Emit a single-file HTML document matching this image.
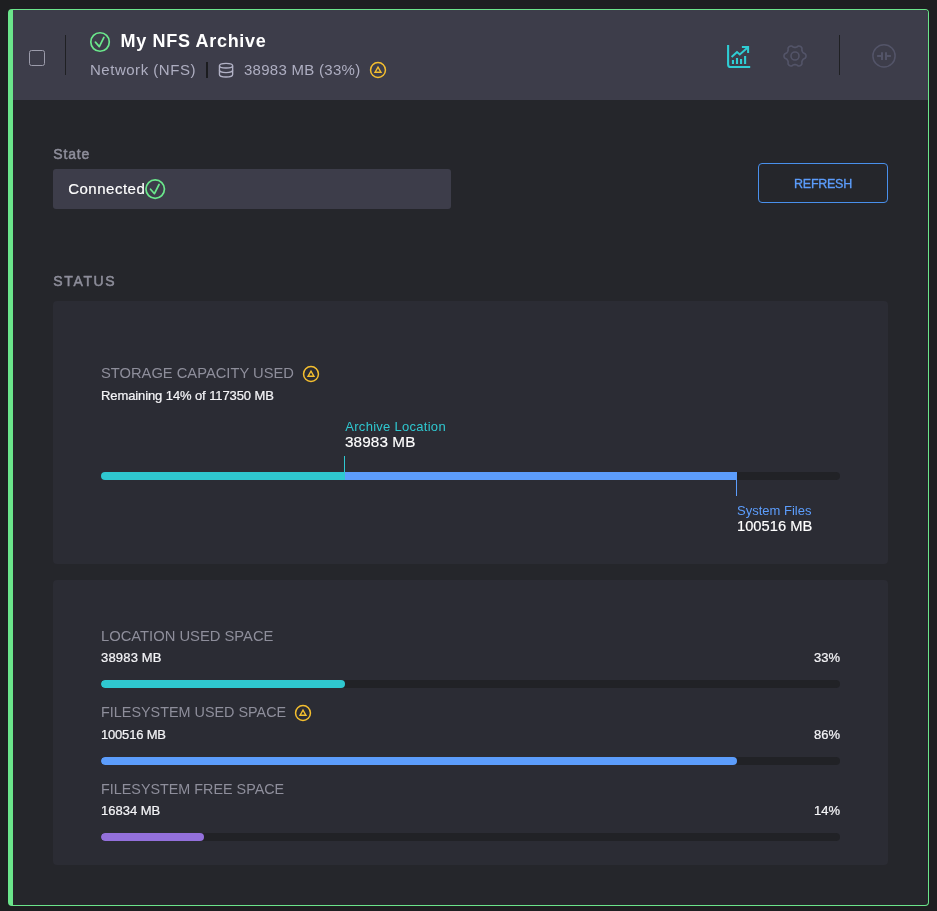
<!DOCTYPE html>
<html lang="en">
<head>
<meta charset="utf-8">
<title>My NFS Archive</title>
<style>
*{box-sizing:border-box;margin:0;padding:0}
html,body{width:937px;height:911px;overflow:hidden;background:#1e1f21}
body{font-family:"Liberation Sans",sans-serif;color:#fff;position:relative}
.abs{position:absolute}
.t{position:absolute;white-space:nowrap;line-height:1}
#panel{position:absolute;left:8px;top:9px;width:921px;height:897px;border:1px solid #6be58b;border-left-width:5px;border-radius:4px;background:#25262b;overflow:hidden}
#hdr{position:absolute;left:0;top:0;width:915px;height:90px;background:#3d3d4a}
.vdiv{position:absolute;width:1px;background:#1f2023}
.cb{position:absolute;left:29px;top:50px;width:16px;height:16px;border:1px solid #9c9cab;border-radius:2.5px}
.gray{color:#aeaec1}
.lab{color:#8e8e9b}
.card{position:absolute;left:53px;width:835px;background:#2b2c34;border-radius:4px}
.track{position:absolute;left:101px;width:739px;height:8px;border-radius:4px;background:#212226;overflow:hidden}
.fill{position:absolute;top:0;height:8px}
.val{font-size:13px;color:#f4f4f7;-webkit-text-stroke:0.22px #f4f4f7}
.h{font-size:15px;color:#8e8e9b}
#btn{position:absolute;left:758px;top:163px;width:130px;height:40px;border:1px solid #4990ec;border-radius:4px;color:#5c9dfc;font-size:13px;text-align:center;line-height:38px}
</style>
</head>
<body>
<div id="panel"><div id="hdr"></div></div>

<!-- header -->
<div class="cb"></div>
<div class="vdiv" style="left:65px;top:35px;height:40px"></div>
<svg class="abs" style="left:89px;top:31px" width="22" height="22" viewBox="0 0 22 22"><circle cx="11.05" cy="11" r="9.25" fill="none" stroke="#6be88c" stroke-width="1.7"/><path d="M6.4 11.15 L10.3 15.6 L14.9 6.4" fill="none" stroke="#6be88c" stroke-width="1.7" stroke-linecap="round" stroke-linejoin="round"/></svg>
<div class="t" id="title" style="left:120.5px;top:32.2px;font-size:18px;font-weight:bold;letter-spacing:0.68px">My NFS Archive</div>
<div class="t gray" id="sub1" style="left:90px;top:62.3px;font-size:15px;letter-spacing:0.52px">Network (NFS)</div>
<div class="vdiv" style="left:206px;top:62px;height:16px;width:2px;background:#1b1c1f"></div>
<svg class="abs" style="left:218px;top:62px" width="17" height="17" viewBox="0 0 17 17" fill="none" stroke="#b2b2c6" stroke-width="1.35"><ellipse cx="8.05" cy="3.65" rx="6.6" ry="2.3"/><path d="M1.45 3.65 V12.5 A6.6 2.5 0 0 0 14.65 12.5 V3.65"/><path d="M1.45 8.1 A6.6 2.5 0 0 0 14.65 8.1"/></svg>
<div class="t gray" id="sub2" style="left:244px;top:62.3px;font-size:15px;letter-spacing:0.28px">38983 MB (33%)</div>
<svg class="abs warn" style="left:368.05px;top:60.0px" width="20" height="20" viewBox="-10 -10 20 20"><circle cx="0" cy="0" r="7.45" fill="none" stroke="#f5bf2f" stroke-width="1.5"/><path d="M0 -4.2 L4.15 3 H-4.15 Z M0 -1.55 L-1.75 1.5 H1.75 Z" fill="#f5bf2f" fill-rule="evenodd"/></svg>

<!-- header right icons -->
<svg class="abs" style="left:720px;top:38px" width="36" height="36" viewBox="0 0 36 36" fill="none" stroke="#2fcdd4"><path d="M8.1 7 V26.4 Q8.1 29 10.7 29 H30.2" stroke-width="2.1"/><path d="M11.6 19.1 L17 14 L19.8 16.4 L27.4 9.8" stroke-width="2"/><path d="M21.9 9 H28.1 V15" stroke-width="2"/><path d="M12.95 26.1 V21.9 M17 26.1 V20 M21.05 26.1 V20.9 M25.1 26.1 V18" stroke-width="2.1"/></svg>
<svg class="abs" style="left:781.98px;top:42.76px" width="26" height="26" viewBox="-13 -13 26 26" fill="none" stroke="#535468" stroke-width="1.6" stroke-linejoin="round"><circle cx="0" cy="0" r="4"/><path d="M11.00 0.00L10.93 0.72L10.70 1.41L10.31 2.05L9.47 2.54L8.61 2.92L8.14 3.37L7.76 3.83L7.45 4.30L7.19 4.81L6.99 5.36L6.84 6.00L6.93 6.93L6.93 7.90L6.57 8.56L6.08 9.10L5.50 9.53L4.84 9.82L4.13 9.97L3.38 9.95L2.54 9.47L1.77 8.92L1.15 8.73L0.57 8.63L0.00 8.60L-0.57 8.63L-1.15 8.73L-1.77 8.92L-2.54 9.47L-3.38 9.95L-4.13 9.97L-4.84 9.82L-5.50 9.53L-6.08 9.10L-6.57 8.56L-6.93 7.90L-6.93 6.93L-6.84 6.00L-6.99 5.36L-7.19 4.81L-7.45 4.30L-7.76 3.83L-8.14 3.37L-8.61 2.92L-9.47 2.54L-10.31 2.05L-10.70 1.41L-10.93 0.72L-11.00 0.00L-10.93 -0.72L-10.70 -1.41L-10.31 -2.05L-9.47 -2.54L-8.61 -2.92L-8.14 -3.37L-7.76 -3.83L-7.45 -4.30L-7.19 -4.81L-6.99 -5.36L-6.84 -6.00L-6.93 -6.93L-6.93 -7.90L-6.57 -8.56L-6.08 -9.10L-5.50 -9.53L-4.84 -9.82L-4.13 -9.97L-3.38 -9.95L-2.54 -9.47L-1.77 -8.92L-1.15 -8.73L-0.57 -8.63L-0.00 -8.60L0.57 -8.63L1.15 -8.73L1.77 -8.92L2.54 -9.47L3.38 -9.95L4.13 -9.97L4.84 -9.82L5.50 -9.53L6.08 -9.10L6.57 -8.56L6.93 -7.90L6.93 -6.93L6.84 -6.00L6.99 -5.36L7.19 -4.81L7.45 -4.30L7.76 -3.83L8.14 -3.37L8.61 -2.92L9.47 -2.54L10.31 -2.05L10.70 -1.41L10.93 -0.72Z"/></svg>
<div class="vdiv" style="left:839px;top:35px;height:40px"></div>
<svg class="abs" style="left:871px;top:43px" width="26" height="26" viewBox="0 0 26 26" fill="none" stroke="#535468"><circle cx="13" cy="12.9" r="11.1" stroke-width="1.5"/><path d="M6.1 13 H10 M16 13 H19.9" stroke-width="1.8"/><path d="M11 9.2 V16.9 M15 9.2 V16.9" stroke-width="2"/></svg>

<!-- state -->
<div class="t lab" id="state" style="left:53.3px;top:147.2px;font-size:14px;color:#8e8e9b;letter-spacing:0.85px;-webkit-text-stroke:0.5px #8e8e9b">State</div>
<div class="abs" style="left:53px;top:169px;width:398px;height:40px;background:#3d3d4a;border-radius:3px"></div>
<div class="t" id="conn" style="left:68.2px;top:181.1px;font-size:15px;letter-spacing:0.5px;-webkit-text-stroke:0.2px #fff">Connected</div>
<svg class="abs" style="left:144px;top:178px" width="22" height="22" viewBox="0 0 22 22"><circle cx="11.2" cy="11.1" r="9.25" fill="none" stroke="#6be88c" stroke-width="1.7"/><path d="M6.55 11.25 L10.45 15.7 L15.05 6.5" fill="none" stroke="#6be88c" stroke-width="1.7" stroke-linecap="round" stroke-linejoin="round"/></svg>
<div id="btn"><span style="font-size:12.5px;letter-spacing:-0.28px;-webkit-text-stroke:0.3px #5c9dfc;position:relative;top:1px;left:0px">REFRESH</span></div>

<div class="t" id="status" style="left:53.3px;top:274px;font-size:14px;color:#8e8e9b;letter-spacing:1.65px;-webkit-text-stroke:0.5px #8e8e9b">STATUS</div>

<!-- card 1 -->
<div class="card" style="top:301px;height:263px"></div>
<div class="t h" id="h1" style="left:100.6px;top:364.9px;transform:scaleX(0.949);font-size:15.5px;transform-origin:0 50%">STORAGE CAPACITY USED</div>
<svg class="abs warn" style="left:301.1px;top:364.1px" width="20" height="20" viewBox="-10 -10 20 20"><circle cx="0" cy="0" r="7.45" fill="none" stroke="#f5bf2f" stroke-width="1.5"/><path d="M0 -4.2 L4.15 3 H-4.15 Z M0 -1.55 L-1.75 1.5 H1.75 Z" fill="#f5bf2f" fill-rule="evenodd"/></svg>
<div class="t val" id="v1" style="left:101px;top:389.2px;letter-spacing:-0.1px">Remaining 14% of 117350 MB</div>
<div class="t" id="al" style="left:345.3px;top:420px;font-size:13px;color:#2fc8d0;letter-spacing:0.28px">Archive Location</div>
<div class="t" id="alv" style="left:345.3px;top:435px;font-size:14px;letter-spacing:0.1px;transform:scaleX(1.09);transform-origin:0 50%;-webkit-text-stroke:0.15px #fff">38983 MB</div>
<div class="abs" style="left:344px;top:456px;width:1px;height:18px;background:#2fc8d0"></div>
<div class="track" style="top:472px"><div class="fill" style="left:0;width:244px;background:#2fc8d0"></div><div class="fill" style="left:244px;width:392px;background:#5c9dfc"></div></div>
<div class="abs" style="left:736px;top:478px;width:1px;height:18px;background:#5c9dfc"></div>
<div class="t" id="sf" style="left:737px;top:504px;font-size:13px;color:#5c9dfc;letter-spacing:0px">System Files</div>
<div class="t" id="sfv" style="left:737.3px;top:519px;font-size:14px;letter-spacing:0px;transform:scaleX(1.05);transform-origin:0 50%;-webkit-text-stroke:0.15px #fff">100516 MB</div>

<!-- card 2 -->
<div class="card" style="top:580px;height:285px"></div>
<div class="t h" id="h2" style="left:100.6px;top:627.9px;transform:scaleX(0.952);font-size:15.5px;transform-origin:0 50%">LOCATION USED SPACE</div>
<div class="t val" id="v2" style="left:101px;top:651.3px;letter-spacing:0.18px">38983 MB</div>
<div class="t val" id="p2" style="right:97px;top:651.3px">33%</div>
<div class="track" style="top:680px"><div class="fill" style="left:0;width:244px;background:#2fc8d0;border-radius:4px"></div></div>

<div class="t h" id="h3" style="left:100.6px;top:703.8px;transform:scaleX(0.928);font-size:15.5px;transform-origin:0 50%">FILESYSTEM USED SPACE</div>
<svg class="abs warn" style="left:293.1px;top:703.1px" width="20" height="20" viewBox="-10 -10 20 20"><circle cx="0" cy="0" r="7.45" fill="none" stroke="#f5bf2f" stroke-width="1.5"/><path d="M0 -4.2 L4.15 3 H-4.15 Z M0 -1.55 L-1.75 1.5 H1.75 Z" fill="#f5bf2f" fill-rule="evenodd"/></svg>
<div class="t val" id="v3" style="left:101px;top:728.3px;letter-spacing:-0.19px">100516 MB</div>
<div class="t val" id="p3" style="right:97px;top:728.3px">86%</div>
<div class="track" style="top:757px"><div class="fill" style="left:0;width:636px;background:#5c9dfc;border-radius:4px"></div></div>

<div class="t h" id="h4" style="left:100.6px;top:780.8px;transform:scaleX(0.926);font-size:15.5px;transform-origin:0 50%">FILESYSTEM FREE SPACE</div>
<div class="t val" id="v4" style="left:101px;top:804.2px">16834 MB</div>
<div class="t val" id="p4" style="right:97px;top:804.2px">14%</div>
<div class="track" style="top:833px"><div class="fill" style="left:0;width:103px;background:#9370db;border-radius:4px"></div></div>
</body>
</html>
